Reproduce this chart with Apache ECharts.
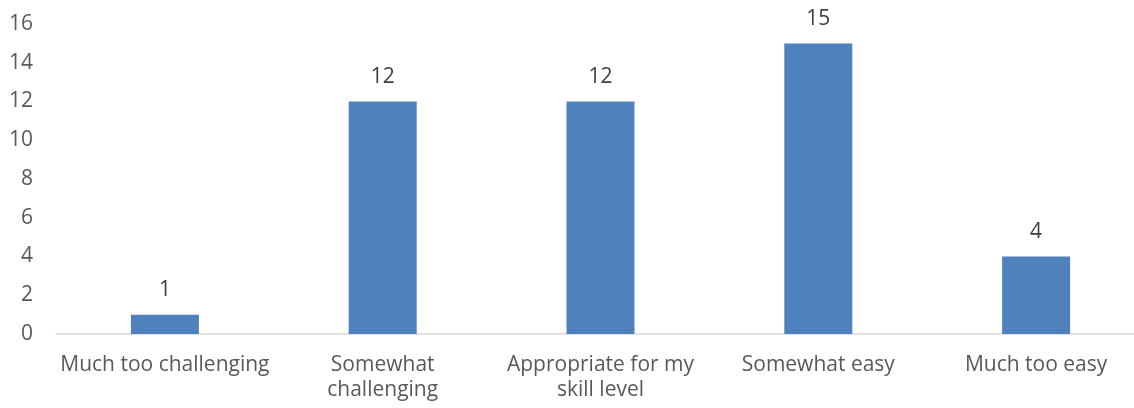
<!DOCTYPE html>
<html>
<head>
<meta charset="utf-8">
<title>Difficulty rating</title>
<script src="https://cdn.jsdelivr.net/npm/echarts@6/dist/echarts.min.js"></script>
<style>
  html, body { margin: 0; padding: 0; background: #ffffff; overflow: hidden; }
  /* the plot runs slightly past the right edge of the window */
  #chart { width: 1146px; height: 408px; }
</style>
</head>
<body>
<div id="chart"></div>
<script>
// Response categories (line breaks where the axis wraps them)
var categories = [
  'Much too challenging',
  'Somewhat\nchallenging',
  'Appropriate for my\nskill level',
  'Somewhat easy',
  'Much too easy'
];
// Number of responses per category
var counts = [1, 12, 12, 15, 4];
// Value axis range
var yMin = 0;
var yMax = 16;
var yStep = 2;

var FONT = 'Open Sans';
var chart = echarts.init(document.getElementById('chart'), null, { renderer: 'canvas' });
chart.setOption({
  animation: false,
  backgroundColor: '#ffffff',
  textStyle: { fontFamily: FONT },
  grid: { left: 56, top: 24, width: 1089, height: 310, containLabel: false },
  xAxis: {
    type: 'category',
    data: categories,
    axisLine: { show: true, lineStyle: { color: '#D9D9D9', width: 1.5 } },
    axisTick: { show: false },
    axisLabel: {
      color: '#595959', fontFamily: FONT, fontSize: 21,
      margin: 19, lineHeight: 25, interval: 0
    },
    splitLine: { show: false }
  },
  yAxis: {
    type: 'value',
    min: yMin, max: yMax, interval: yStep,
    axisLine: { show: false },
    axisTick: { show: false },
    splitLine: { show: false },
    axisLabel: { color: '#595959', fontFamily: FONT, fontSize: 21, margin: 23 }
  },
  series: [{
    type: 'bar',
    data: counts,
    barWidth: 68,
    itemStyle: { color: '#4F81BD' },
    label: {
      show: true, position: 'top', distance: 14, lineHeight: 21,
      color: '#404040', fontFamily: FONT, fontSize: 21
    }
  }]
});
</script>
</body>
</html>
